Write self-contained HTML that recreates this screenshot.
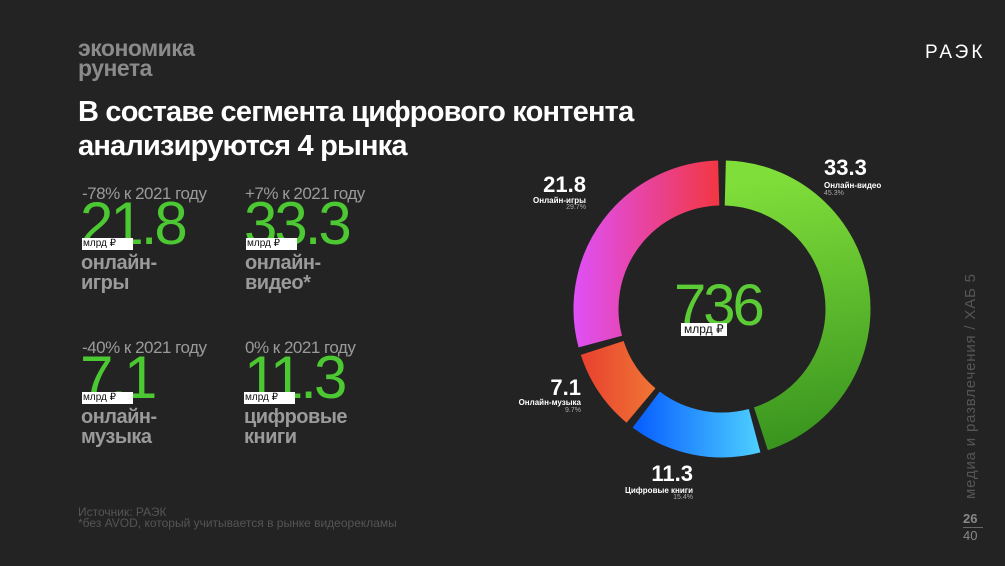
<!DOCTYPE html>
<html><head><meta charset="utf-8"><style>
body{margin:0;width:1005px;height:566px;background:#232323;overflow:hidden;position:relative;font-family:"Liberation Sans","Noto Sans CJK SC",sans-serif}
div{position:absolute;white-space:nowrap}
.pct{color:#9a9a9a;font-size:17px;letter-spacing:-0.5px}
.big{color:#4cc832;font-size:60px;letter-spacing:-3px;line-height:60px}
.unit{background:#fff;color:#111;font-size:10px;line-height:12px;height:12px;width:50px;padding-left:1px}
.lab{color:#9a9a9a;font-size:20px;font-weight:bold;line-height:20px;letter-spacing:-0.5px}
.dl{color:#fff;font-weight:bold;text-align:right}
</style></head><body>
<div style="left:78px;top:38px;color:#8a8a8a;font-weight:bold;font-size:23px;line-height:20px;letter-spacing:-0.5px">экономика<br>рунета</div>
<div style="left:78px;top:95px;color:#fff;font-weight:bold;font-size:29px;line-height:34px;letter-spacing:-0.8px">В составе сегмента цифрового контента<br>анализируются 4 рынка</div>
<div style="left:925px;top:42px;color:#fff;font-size:19px;letter-spacing:3px">РАЭК</div>

<div class="pct" style="left:82px;top:184px">-78% к 2021 году</div>
<div class="big" style="left:80px;top:194px">21.8</div>
<div class="unit" style="left:82px;top:238px">млрд ₽</div>
<div class="lab" style="left:81px;top:253px">онлайн-<br>игры</div>

<div class="pct" style="left:245px;top:184px">+7% к 2021 году</div>
<div class="big" style="left:244px;top:194px">33.3</div>
<div class="unit" style="left:246px;top:238px">млрд ₽</div>
<div class="lab" style="left:245px;top:253px">онлайн-<br>видео*</div>

<div class="pct" style="left:82px;top:338px">-40% к 2021 году</div>
<div class="big" style="left:80px;top:348px">7.1</div>
<div class="unit" style="left:82px;top:392px">млрд ₽</div>
<div class="lab" style="left:81px;top:407px">онлайн-<br>музыка</div>

<div class="pct" style="left:245px;top:338px">0% к 2021 году</div>
<div class="big" style="left:244px;top:348px">11.3</div>
<div class="unit" style="left:244px;top:392px">млрд ₽</div>
<div class="lab" style="left:244px;top:407px">цифровые<br>книги</div>

<div style="left:78px;top:507px;color:#555;font-size:12px;line-height:11px">Источник: РАЭК<br>*без AVOD, который учитывается в рынке видеорекламы</div>

<svg style="position:absolute;left:0;top:0" width="1005" height="566">
<defs>
<linearGradient id="gv" gradientUnits="userSpaceOnUse" x1="760" y1="180" x2="800" y2="440"><stop offset="0" stop-color="#80de3a"/><stop offset="1" stop-color="#3a951f"/></linearGradient>
<linearGradient id="gb" gradientUnits="userSpaceOnUse" x1="640" y1="0" x2="785" y2="0"><stop offset="0" stop-color="#0a62ff"/><stop offset="1" stop-color="#5ce6ff"/></linearGradient>
<linearGradient id="gm" gradientUnits="userSpaceOnUse" x1="580" y1="0" x2="665" y2="0"><stop offset="0" stop-color="#e8402f"/><stop offset="1" stop-color="#f07c35"/></linearGradient>
<linearGradient id="gg" gradientUnits="userSpaceOnUse" x1="575" y1="0" x2="722" y2="0"><stop offset="0" stop-color="#df50f5"/><stop offset="1" stop-color="#f2363f"/></linearGradient>
</defs>
<g fill="none" stroke-width="45">
<path d="M725.3 183 A126 126 0 0 1 760.9 428.8" stroke="url(#gv)"/>
<path d="M754.6 430.7 A126 126 0 0 1 646.2 409.6" stroke="url(#gb)"/>
<path d="M641 405.5 A126 126 0 0 1 602.2 347.9" stroke="url(#gm)"/>
<path d="M600.3 341.6 A126 126 0 0 1 718.7 183" stroke="url(#gg)"/>
</g>
<text x="966" y="490" transform="rotate(-90 975 490)" fill="#555" font-size="15" font-family="Liberation Sans,sans-serif" textLength="225">медиа и развлечения / ХАБ 5</text>
</svg>
<div style="left:674px;top:276px;color:#5ccc36;font-size:58px;letter-spacing:-3px;line-height:60px">736</div>
<div style="left:681px;top:323px;background:#fff;color:#111;font-size:12px;line-height:13px;padding:0 3px">млрд ₽</div>

<div class="dl" style="left:824px;top:155px;text-align:left;font-size:22px">33.3</div>
<div style="left:824px;top:181px;color:#fff;font-size:8px;font-weight:bold">Онлайн-видео</div>
<div style="left:824px;top:190px;color:#aaa;font-size:7px">45.3%</div>
<div class="dl" style="left:526px;top:172px;width:60px;font-size:22px">21.8</div>
<div class="dl" style="left:500px;top:196px;width:86px;font-size:8px">Онлайн-игры</div>
<div style="left:500px;top:204px;width:86px;color:#aaa;font-size:7px;text-align:right">29.7%</div>
<div class="dl" style="left:520px;top:375px;width:61px;font-size:22px">7.1</div>
<div class="dl" style="left:490px;top:398px;width:91px;font-size:8px">Онлайн-музыка</div>
<div style="left:490px;top:407px;width:91px;color:#aaa;font-size:7px;text-align:right">9.7%</div>
<div class="dl" style="left:630px;top:461px;width:63px;font-size:22px">11.3</div>
<div class="dl" style="left:600px;top:486px;width:93px;font-size:8px">Цифровые книги</div>
<div style="left:600px;top:494px;width:93px;color:#aaa;font-size:7px;text-align:right">15.4%</div>

<div style="left:963px;top:511px;color:#888;font-weight:bold;font-size:13px">26</div>
<div style="left:963px;top:527px;width:20px;border-top:1px solid #666;color:#888;font-size:13px">40</div>
</body></html>
